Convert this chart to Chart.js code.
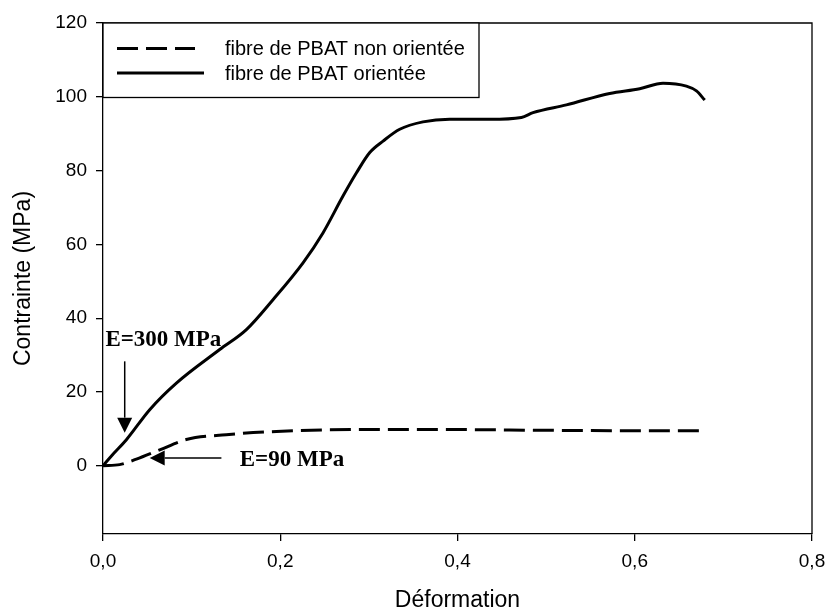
<!DOCTYPE html>
<html><head><meta charset="utf-8">
<script src="https://cdn.jsdelivr.net/npm/chart.js@4"></script>
<style>html,body{margin:0;padding:0;background:#fff}</style>
</head>
<body>
<canvas id="c" width="827" height="614"></canvas>
<script>
// ---- data ----
const strainOriented = [0, 0.010, 0.0264, 0.0527, 0.0828, 0.1317, 0.1618, 0.1918, 0.2257, 0.2482, 0.2708, 0.286, 0.301, 0.316, 0.3348, 0.361, 0.3912, 0.4363, 0.4721, 0.4852, 0.5229, 0.5717, 0.6056, 0.6319, 0.6583, 0.6696, 0.679];
const stressOriented = [0, 2.8, 7.06, 15.2, 22.4, 31.5, 36.9, 45.0, 55.0, 63.1, 73.1, 79.4, 84.9, 88.0, 91.2, 93.2, 93.9, 93.9, 94.4, 95.7, 97.8, 100.9, 102.2, 103.7, 102.9, 101.6, 99.1];
const strainNonOriented = [0, 0.0188, 0.0377, 0.064, 0.094, 0.139, 0.1957, 0.29, 0.4, 0.5, 0.6, 0.68];
const stressNonOriented = [0, 0.3, 1.8, 4.3, 7.1, 8.4, 9.3, 9.8, 9.8, 9.6, 9.5, 9.5];
const seriesLabels = ['fibre de PBAT non orientée', 'fibre de PBAT orientée'];
const xTicks = [0, 0.2, 0.4, 0.6, 0.8];
const yTicks = [0, 20, 40, 60, 80, 100, 120];
const xTitle = 'Déformation';
const yTitle = 'Contrainte (MPa)';
const annotTexts = ['E=300 MPa', 'E=90 MPa'];
const annotTextX = [0.0027, 0.1543];
const annotTextY = [32.4, -0.2];
const arrowFromX = [0.0245, 0.1336];
const arrowFromY = [28.3, 2.1];
const arrowToX = [0.0245, 0.0527];
const arrowToY = [8.96, 2.1];

const SANS = "'Liberation Sans', Arial, Helvetica, sans-serif";
const SERIF = "'Liberation Serif', 'Times New Roman', serif";

const toPts = (xs, ys) => xs.map((x, i) => ({x, y: ys[i]}));

const extras = {
  id: 'extras',
  afterDatasetsDraw(chart) {
    const {ctx, chartArea: a, scales: {x, y}} = chart;
    ctx.save();
    // frame
    ctx.strokeStyle = '#000'; ctx.lineWidth = 1.3;
    ctx.beginPath();
    ctx.moveTo(a.left, a.top); ctx.lineTo(a.right, a.top); ctx.lineTo(a.right, a.bottom);
    ctx.stroke();
    // legend box
    const bx = a.left, by = a.top, bw = 376, bh = 74.5;
    ctx.fillStyle = '#fff';
    ctx.fillRect(bx, by, bw, bh);
    ctx.strokeRect(bx, by, bw, bh);
    const rows = [chart.data.datasets[0], chart.data.datasets[1]];
    const rowY = [by + 25.5, by + 50];
    const sampleEnd = [bx + 92, bx + 101];
    rows.forEach((ds, i) => {
      ctx.beginPath();
      ctx.setLineDash(ds.borderDash || []);
      ctx.lineWidth = 3;
      ctx.moveTo(bx + 14, rowY[i]); ctx.lineTo(sampleEnd[i], rowY[i]);
      ctx.stroke();
      ctx.setLineDash([]);
      ctx.fillStyle = '#000';
      ctx.font = '20px ' + SANS;
      ctx.textBaseline = 'middle'; ctx.textAlign = 'left';
      ctx.fillText(ds.label, bx + 122, rowY[i] + 1);
    });
    // annotations
    ctx.font = 'bold 23px ' + SERIF;
    ctx.textBaseline = 'alphabetic'; ctx.textAlign = 'left';
    ctx.fillStyle = '#000';
    annotTexts.forEach((t, i) => {
      ctx.fillText(t, x.getPixelForValue(annotTextX[i]), y.getPixelForValue(annotTextY[i]));
      const x1 = x.getPixelForValue(arrowFromX[i]), y1 = y.getPixelForValue(arrowFromY[i]);
      const x2 = x.getPixelForValue(arrowToX[i]), y2 = y.getPixelForValue(arrowToY[i]);
      const ang = Math.atan2(y2 - y1, x2 - x1);
      const L = 15, W = 7.5;
      const bxp = x2 - L * Math.cos(ang), byp = y2 - L * Math.sin(ang);
      ctx.lineWidth = 1.5;
      ctx.beginPath(); ctx.moveTo(x1, y1); ctx.lineTo(bxp, byp); ctx.stroke();
      ctx.beginPath();
      ctx.moveTo(x2, y2);
      ctx.lineTo(bxp + W * Math.sin(ang), byp - W * Math.cos(ang));
      ctx.lineTo(bxp - W * Math.sin(ang), byp + W * Math.cos(ang));
      ctx.closePath(); ctx.fill();
    });
    ctx.restore();
  }
};

new Chart(document.getElementById('c'), {
  type: 'line',
  data: {
    datasets: [
      {label: seriesLabels[0], data: toPts(strainNonOriented, stressNonOriented),
       borderColor: '#000', borderWidth: 3, borderDash: [21, 8], pointRadius: 0,
       cubicInterpolationMode: 'monotone', fill: false},
      {label: seriesLabels[1], data: toPts(strainOriented, stressOriented),
       borderColor: '#000', borderWidth: 3, pointRadius: 0,
       cubicInterpolationMode: 'monotone', fill: false}
    ]
  },
  options: {
    responsive: false, animation: false,
    layout: {padding: {top: 23, right: 15, left: 0, bottom: 0}},
    plugins: {legend: {display: false}, tooltip: {enabled: false}},
    scales: {
      x: {
        type: 'linear', min: 0, max: 0.8,
        afterBuildTicks: s => { s.ticks = xTicks.map(v => ({value: v})); },
        afterFit: s => { s.height = 80; s.paddingLeft = 0; s.paddingRight = 0; },
        grid: {drawOnChartArea: false, drawTicks: true, tickLength: 7, color: '#000', lineWidth: 1.3},
        border: {display: true, color: '#000', width: 1.3},
        ticks: {color: '#000', font: {family: SANS, size: 19}, padding: 9, maxRotation: 0,
                callback: v => v.toFixed(1).replace('.', ',')},
        title: {display: true, text: xTitle, color: '#000', font: {family: SANS, size: 23}, padding: {top: 0, bottom: 0}}
      },
      y: {
        type: 'linear', min: -18.5, max: 120,
        afterBuildTicks: s => { s.ticks = yTicks.map(v => ({value: v})); },
        afterFit: s => { s.width = 103; s.paddingTop = 0; s.paddingBottom = 0; },
        grid: {drawOnChartArea: false, drawTicks: true, tickLength: 7, color: '#000', lineWidth: 1.3},
        border: {display: true, color: '#000', width: 1.3},
        ticks: {color: '#000', font: {family: SANS, size: 19}, padding: 9,
                callback: v => String(v)},
        title: {display: true, text: yTitle, color: '#000', font: {family: SANS, size: 23}, padding: {top: 10, bottom: 0}}
      }
    }
  },
  plugins: [extras]
});
</script>
</body></html>
